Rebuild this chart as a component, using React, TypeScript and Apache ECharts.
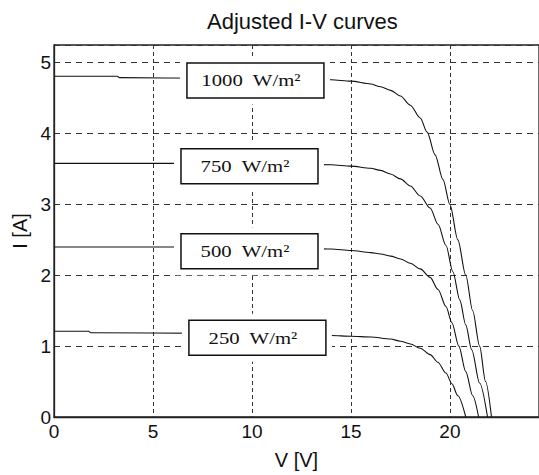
import React, { useEffect, useRef } from "react";
import * as echarts from "echarts";

// Voltage (V) / current (A) samples, one pair of arrays per irradiance
const v1000 = [0, 3.2, 3.3, 8, 12, 14, 15, 16, 16.5, 17, 17.5, 18, 18.5, 18.85, 19.25, 19.65, 20.0, 20.4, 20.8, 21.15, 21.5, 21.8, 22.1];
const i1000 = [4.81, 4.81, 4.79, 4.78, 4.77, 4.76, 4.74, 4.70, 4.66, 4.61, 4.53, 4.40, 4.22, 4.02, 3.70, 3.35, 3.0, 2.5, 2.0, 1.5, 1.0, 0.5, 0];

const v750 = [0, 8, 12, 14, 15, 16, 16.5, 17, 17.5, 18, 18.5, 19.0, 19.4, 19.8, 20.15, 20.5, 20.8, 21.1, 21.5, 21.9];
const i750 = [3.58, 3.58, 3.57, 3.56, 3.54, 3.51, 3.48, 3.43, 3.36, 3.26, 3.12, 2.95, 2.72, 2.42, 2.05, 1.65, 1.3, 0.95, 0.48, 0];

const v500 = [0, 8, 12, 14, 15, 16, 16.5, 17, 17.5, 18, 18.5, 19.0, 19.4, 19.8, 20.1, 20.45, 20.8, 21.15, 21.45];
const i500 = [2.40, 2.40, 2.39, 2.37, 2.35, 2.32, 2.30, 2.27, 2.23, 2.17, 2.09, 1.97, 1.80, 1.56, 1.33, 1.0, 0.64, 0.3, 0];

const v250 = [0, 1.75, 1.85, 8, 12, 14, 15, 16, 17, 17.5, 18, 18.5, 19.0, 19.4, 19.8, 20.1, 20.4, 20.8];
const i250 = [1.21, 1.21, 1.19, 1.18, 1.17, 1.15, 1.14, 1.13, 1.10, 1.07, 1.03, 0.97, 0.88, 0.77, 0.62, 0.47, 0.30, 0];

const irradianceLabels = ["1000", "750", "500", "250"];
// Annotation anchor for each label box (data units)
const labelAnchorV = [10.15, 9.85, 9.85, 10.25];
const labelAnchorI = [4.79, 3.58, 2.38, 1.16];

const xTicks = [0, 5, 10, 15, 20];
const yTicks = [0, 1, 2, 3, 4, 5];

const seriesV = [v1000, v750, v500, v250];
const seriesI = [i1000, i750, i500, i250];

export default function App() {
  const ref = useRef<HTMLDivElement>(null);
  useEffect(() => {
    if (!ref.current) return;
    const chart = echarts.init(ref.current, null, { renderer: "svg" });
    const axisLabel = {
      color: "#111",
      fontSize: 19,
      fontFamily: "Liberation Sans, Arial, sans-serif",
    };
    chart.setOption({
      animation: false,
      backgroundColor: "#fff",
      title: {
        text: "Adjusted I-V curves",
        left: 202,
        top: 5,
        textStyle: {
          fontSize: 22,
          fontWeight: "normal",
          color: "#111",
          fontFamily: "Liberation Sans, Arial, sans-serif",
        },
      },
      grid: {
        left: 54,
        top: 45,
        right: -11,
        bottom: 49,
        show: true,
        borderColor: "#222",
        borderWidth: 1.3,
        backgroundColor: "#fff",
      },
      xAxis: {
        type: "value",
        min: 0,
        max: 24.5,
        interval: 5,
        name: "V [V]",
        nameLocation: "middle",
        nameGap: 33,
        nameTextStyle: { ...axisLabel, fontSize: 20 },
        axisLine: { show: true, lineStyle: { color: "#222", width: 1.3 } },
        axisTick: { show: false },
        axisLabel: {
          ...axisLabel,
          margin: 5,
          showMaxLabel: false,
          formatter: (v: number) => (xTicks.includes(v) ? String(v) : ""),
        },
        splitLine: { show: true, lineStyle: { color: "#333", type: [4, 3], width: 1 } },
      },
      yAxis: {
        type: "value",
        min: 0,
        max: 5.25,
        interval: 1,
        name: "I [A]",
        nameLocation: "middle",
        nameGap: 20,
        nameTextStyle: { ...axisLabel, fontSize: 20 },
        axisLine: { show: true, lineStyle: { color: "#222", width: 1.3 } },
        axisTick: { show: false },
        axisLabel: {
          ...axisLabel,
          margin: 3,
          showMaxLabel: false,
          formatter: (v: number) => (yTicks.includes(v) ? String(v) : ""),
        },
        splitLine: { show: true, lineStyle: { color: "#333", type: [6, 5], width: 1 } },
      },
      series: seriesV.map((vs, k) => ({
        type: "line",
        name: irradianceLabels[k],
        data: vs.map((v, j) => [v, seriesI[k][j]]),
        showSymbol: false,
        smooth: 0.3,
        smoothMonotone: "x",
        lineStyle: { color: "#111", width: 1.1 },
        z: 3,
      })),
    });

    const graphics = irradianceLabels.map((lab, k) => {
      const p = chart.convertToPixel({ gridIndex: 0 }, [labelAnchorV[k], labelAnchorI[k]]) as number[];
      return {
        type: "group",
        x: p[0],
        y: p[1] + 3,
        z: 100,
        children: [
          { type: "rect", z: 100, shape: { x: -75, y: -24, width: 150, height: 48 }, style: { fill: "#fff" } },
          {
            type: "rect",
            z: 101,
            shape: { x: -68, y: -17.5, width: 137, height: 35 },
            style: { fill: "#fff", stroke: "#111", lineWidth: 1.5 },
          },
          {
            type: "text",
            z: 102,
            x: -4,
            y: 0,
            scaleX: 1.22,
            style: {
              text: lab + "  W/m²",
              fontSize: 17,
              fontFamily: "Liberation Serif, Times New Roman, serif",
              fill: "#111",
              align: "center",
              verticalAlign: "middle",
            },
          },
        ],
      };
    });
    chart.setOption({ graphic: graphics });

    return () => chart.dispose();
  }, []);
  return (
    <div
      ref={ref}
      style={{ position: "fixed", left: 0, top: 0, width: 539, height: 475, background: "#fff" }}
    />
  );
}
